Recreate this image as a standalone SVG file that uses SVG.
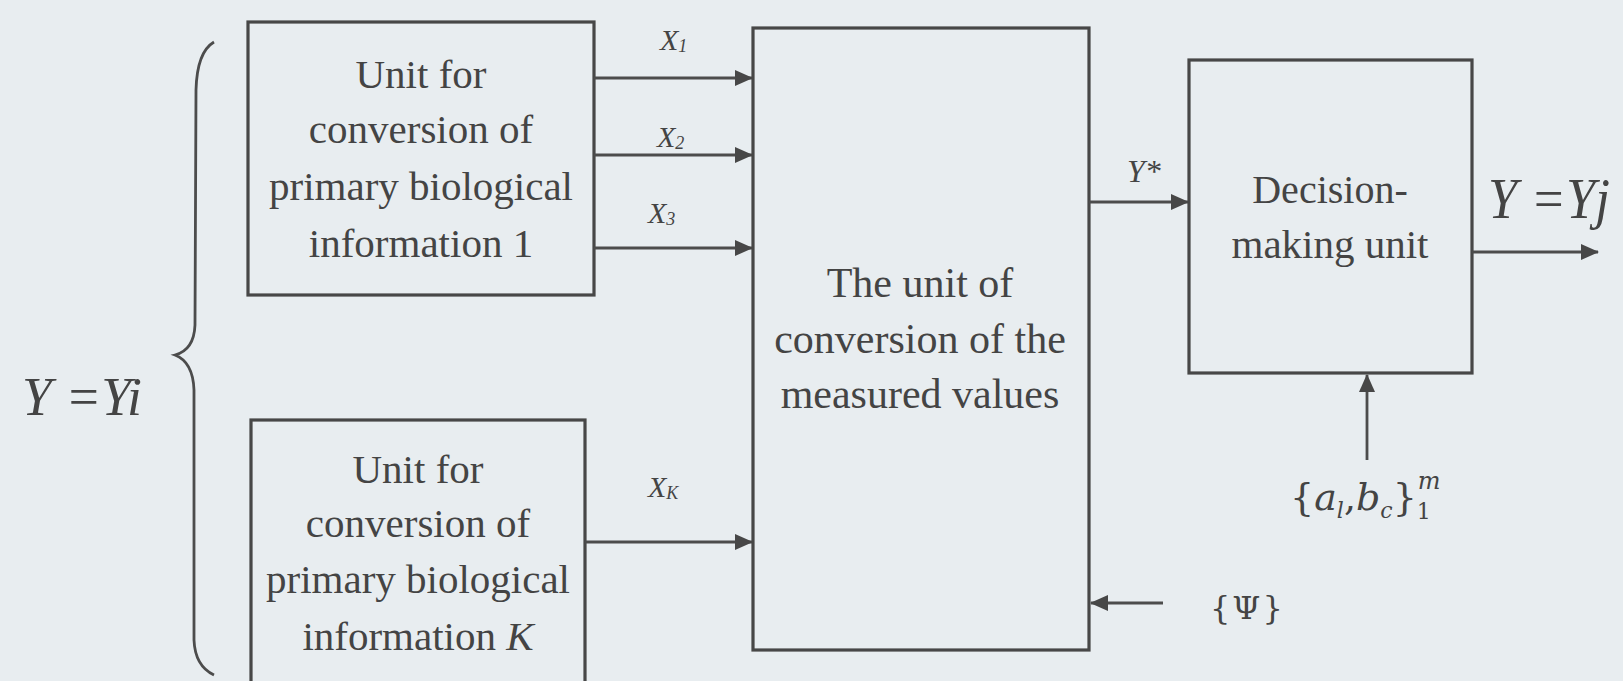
<svg xmlns="http://www.w3.org/2000/svg" width="1623" height="681" viewBox="0 0 1623 681">
<defs>
<style>
.box{fill:none;stroke:#474747;stroke-width:3.2}
.ln{fill:none;stroke:#4c4c4c;stroke-width:2.8}
.t{font-family:"Liberation Serif","Times New Roman",serif;fill:#444;text-anchor:middle}
.m{font-family:"Liberation Serif","Times New Roman",serif;fill:#444;font-style:italic}
.f{font-family:"DejaVu Serif","Liberation Serif",serif;fill:#444}
</style>
<marker id="ah" markerUnits="userSpaceOnUse" markerWidth="18" markerHeight="16" refX="17" refY="8" orient="auto">
<path d="M0,0 L18,8 L0,16 Z" fill="#474747"/>
</marker>
</defs>
<rect width="1623" height="681" fill="#e8edf0"/>

<g id="brace">
<path class="ln" stroke-width="3.2" d="M214,42 Q197,52 196,90 L195,325 Q194,350 175,355 Q193,362 194,390 L194,640 Q195,666 214,675"/>
</g>
<g id="label-yi">
<text class="m" x="22" y="415" font-size="54" textLength="120" lengthAdjust="spacingAndGlyphs">Y =Yi</text>
</g>

<g id="unit1">
<rect class="box" x="248" y="22" width="346" height="273"/>
<text class="t" font-size="41" x="421" y="88">Unit for</text>
<text class="t" font-size="41" x="421" y="143">conversion of</text>
<text class="t" font-size="41" x="421" y="200">primary biological</text>
<text class="t" font-size="41" x="421" y="257">information 1</text>
</g>

<g id="unitK">
<rect class="box" x="251" y="420" width="334" height="290"/>
<text class="t" font-size="41" x="418" y="483">Unit for</text>
<text class="t" font-size="41" x="418" y="537">conversion of</text>
<text class="t" font-size="41" x="418" y="593">primary biological</text>
<text class="t" font-size="41" x="418" y="650">information <tspan font-style="italic">K</tspan></text>
</g>

<g id="conversion">
<rect class="box" x="753" y="28" width="336" height="622"/>
<text class="t" font-size="42" x="920" y="297">The unit of</text>
<text class="t" font-size="42" x="920" y="353">conversion of the</text>
<text class="t" font-size="42" x="920" y="408">measured values</text>
</g>

<g id="decision">
<rect class="box" x="1189" y="60" width="283" height="313"/>
<text class="t" font-size="40" x="1330" y="203">Decision-</text>
<text class="t" font-size="41" x="1330" y="258">making unit</text>
</g>

<g id="connectors">
<line class="ln" x1="594" y1="78" x2="752" y2="78" marker-end="url(#ah)"/>
<line class="ln" x1="594" y1="155" x2="752" y2="155" marker-end="url(#ah)"/>
<line class="ln" x1="594" y1="248" x2="752" y2="248" marker-end="url(#ah)"/>
<line class="ln" x1="585" y1="542" x2="752" y2="542" marker-end="url(#ah)"/>
<line class="ln" x1="1089" y1="202" x2="1188" y2="202" marker-end="url(#ah)"/>
<line class="ln" x1="1472" y1="252" x2="1598" y2="252" marker-end="url(#ah)"/>
<line class="ln" x1="1367" y1="460" x2="1367" y2="375" marker-end="url(#ah)"/>
<line class="ln" x1="1163" y1="603" x2="1091" y2="603" marker-end="url(#ah)"/>
</g>

<g id="labels">
<text class="m" font-size="30" x="660" y="50">X<tspan font-size="18" dy="2">1</tspan></text>
<text class="m" font-size="30" x="657" y="147">X<tspan font-size="18" dy="2">2</tspan></text>
<text class="m" font-size="30" x="648" y="223">X<tspan font-size="18" dy="2">3</tspan></text>
<text class="m" font-size="30" x="648" y="497">X<tspan font-size="18" dy="2">K</tspan></text>
<text class="m" font-size="32" x="1127" y="182">Y*</text>
<text class="m" x="1488" y="218" font-size="56" textLength="122" lengthAdjust="spacingAndGlyphs">Y =Yj</text>
<text class="f" font-size="38" x="1290" y="510">{<tspan font-style="italic">a</tspan><tspan font-style="italic" font-size="22" dy="8">l</tspan><tspan dy="-8">,</tspan><tspan font-style="italic">b</tspan><tspan font-style="italic" font-size="22" dy="8">c</tspan><tspan dy="-8">}</tspan><tspan font-size="22" dy="9">1</tspan><tspan font-style="italic" font-size="24" dx="-13" dy="-30">m</tspan></text>
<text class="f" font-size="32" x="1210" y="619" letter-spacing="2">{Ψ}</text>
</g>
</svg>
